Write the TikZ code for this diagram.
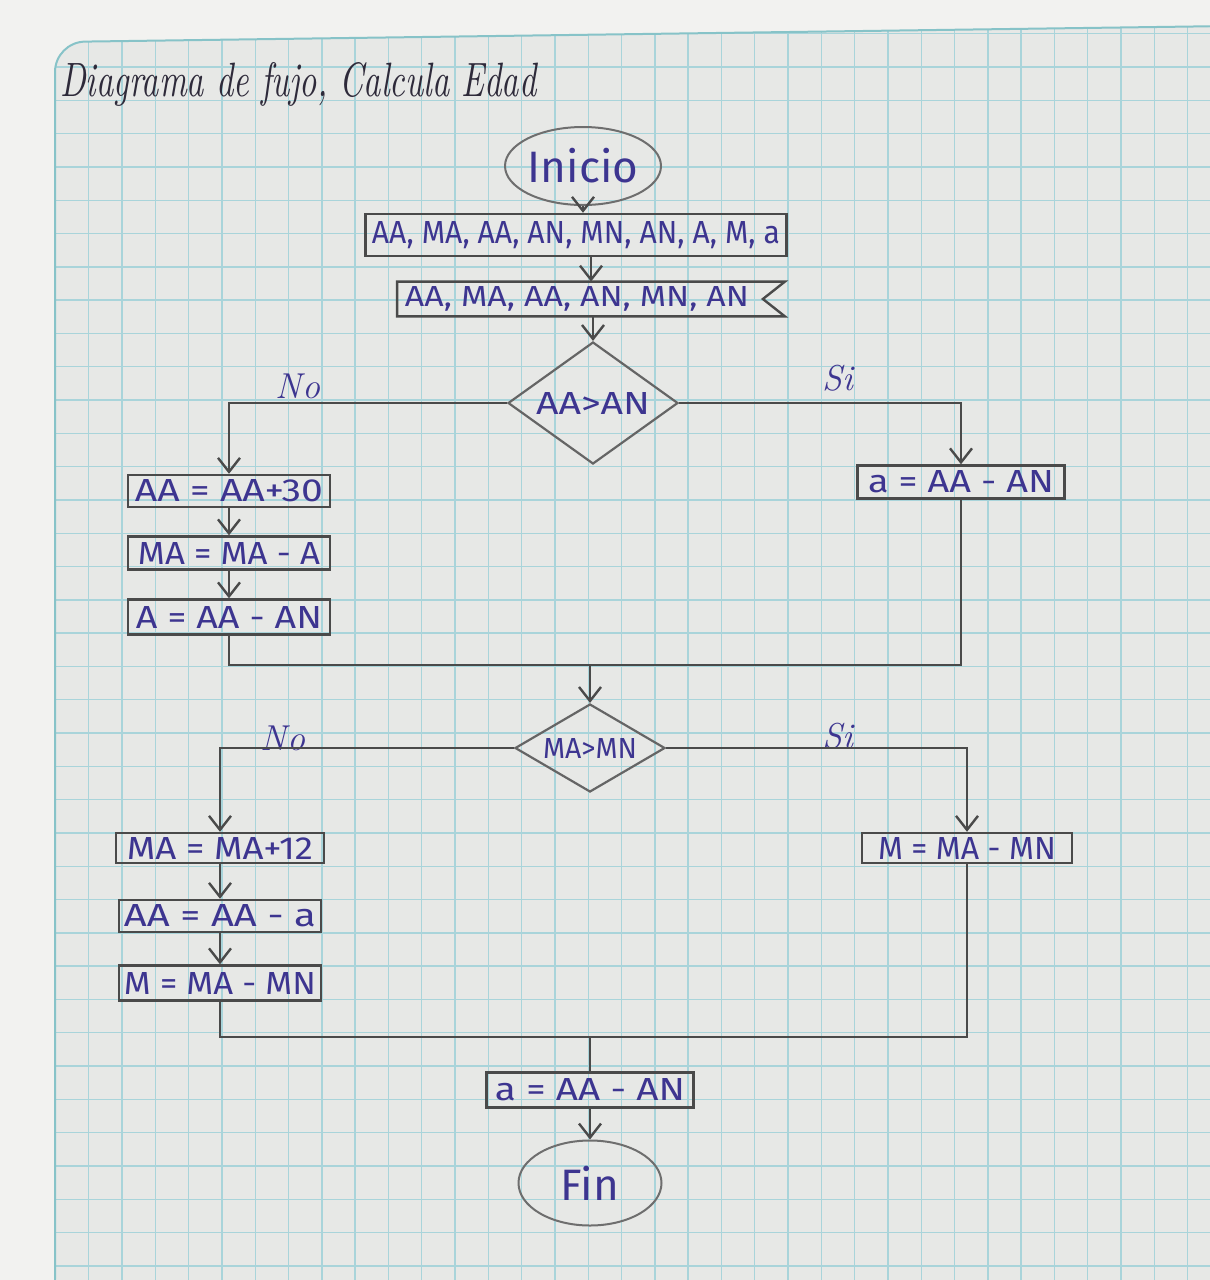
\documentclass[tikz,border=0pt]{standalone}
\usepackage{fontspec}
\usepackage{graphicx}
\usetikzlibrary{shapes.geometric,arrows.meta}
\newfontfamily\handfont{Fira Sans}
\definecolor{linec}{HTML}{4A4A4A}
\definecolor{txtc}{HTML}{3D3590}
\definecolor{titc}{HTML}{2E2A3A}
\definecolor{outc}{HTML}{F2F2F0}
\definecolor{paperc}{HTML}{E7E8E6}
\definecolor{gridc}{HTML}{A9D4DA}
\newcommand{\fitt}[3]{\resizebox{#1pt}{#2pt}{#3}}
\tikzset{
  box/.style={draw=linec, line width=1.2pt, rectangle, inner sep=0pt, text=txtc, font=\handfont},
  dec/.style={draw=linec!85, line width=1.1pt, diamond, inner sep=0pt, text=txtc, font=\handfont},
  term/.style={draw=linec!80, line width=1pt, ellipse, inner sep=0pt, text=txtc, font=\handfont\fontsize{22}{24}\selectfont},
  flow/.style={draw=linec, line width=1.2pt},
  arr/.style={flow, -{Straight Barb[length=7pt,width=11pt,line width=1.2pt]}},
  lbl/.style={text=txtc, font=\itshape\fontsize{18}{20}\selectfont},
}
\begin{document}
\begin{tikzpicture}[x=0.5pt,y=-0.5pt]
\useasboundingbox (0,0) rectangle (1210,1280);
% background and paper
\fill[outc] (0,0) rectangle (1210,1280);
\begin{scope}
\path[fill=paperc, rounded corners=15] (55,1300) -- (55,42) -- (1230,26) -- (1230,1300) -- cycle;
\clip[rounded corners=15] (55,1300) -- (55,42) -- (1230,26) -- (1230,1300) -- cycle;
\foreach \k in {-2,...,33} \draw[gridc, line width=0.7pt] ({122+33.3*\k},0) -- ({122+33.3*\k},1300);
\foreach \k in {-21,...,17} \draw[gridc, line width=0.7pt] (0,{733+33.3*\k}) -- (1230,{733+33.3*\k});
\end{scope}
\draw[gridc!80!teal, line width=1pt, rounded corners=15] (55,1300) -- (55,42) -- (1230,26);
% title
\node[anchor=west, text=titc, inner sep=0pt] (title) at (60,84) {\resizebox{238pt}{17pt}{\itshape Diagrama de fujo, Calcula Edad}};
% nodes
\node[term, minimum width=75pt, minimum height=39pt] (inicio) at (583,166) {Inicio};
\node[box, minimum width=210.5pt, minimum height=21pt] (in1) at (576,235) {\fitt{204}{11}{AA, MA, AA, AN, MN, AN, A, M, a}};
\node[inner sep=0pt, minimum width=193.5pt, minimum height=17pt, text=txtc, font=\handfont] (in2) at (591,299) {\fitt{172}{10}{AA, MA, AA, AN, MN, AN}\hspace*{14pt}};
\draw[flow] (in2.north west) -- (in2.north east) -- ([xshift=-11pt]in2.east) -- (in2.south east) -- (in2.south west) -- cycle;
\node[dec, aspect=1.4, minimum width=85pt, minimum height=61pt] (d1) at (593,403) {\fitt{57}{11}{AA>AN}};
\node[box, minimum width=101pt, minimum height=16pt] (L1) at (229,491) {\fitt{94}{11}{AA = AA+30}};
\node[box, minimum width=101pt, minimum height=16.5pt] (L2) at (229,553) {\fitt{91}{11}{MA = MA - A}};
\node[box, minimum width=101pt, minimum height=17.5pt] (L3) at (229,617) {\fitt{93}{11}{A = AA - AN}};
\node[box, minimum width=103.5pt, minimum height=16.5pt] (R1) at (961,482) {\fitt{93}{11}{a = AA - AN}};
\node[dec, aspect=1.7, minimum width=75pt, minimum height=44pt] (d2) at (590,748) {\fitt{47}{10}{MA>MN}};
\node[box, minimum width=104pt, minimum height=15pt] (L4) at (220,848) {\fitt{93}{11}{MA = MA+12}};
\node[box, minimum width=101pt, minimum height=16pt] (L5) at (220,916) {\fitt{96}{11}{AA = AA - a}};
\node[box, minimum width=101pt, minimum height=17.5pt] (L6) at (220,983) {\fitt{96}{11}{M = MA - MN}};
\node[box, minimum width=105pt, minimum height=15pt] (R2) at (967,848) {\fitt{89}{11}{M = MA - MN}};
\node[box, minimum width=103.5pt, minimum height=17.5pt] (out) at (590,1090) {\fitt{95}{11}{a = AA - AN}};
\node[term, minimum width=71.5pt, minimum height=42.5pt] (fin) at (590,1183) {Fin};
% labels
\node[lbl] (no1) at (298,386) {No};
\node[lbl] (si1) at (838,378) {Si};
\node[lbl] (no2) at (283,738) {No};
\node[lbl] (si2) at (838,736) {Si};
% connectors
\draw[arr] (inicio.south) -- (inicio.south |- in1.north);
\draw[arr] (in2.north |- in1.south) -- (in2.north);
\draw[arr] (d1.north |- in2.south) -- (d1.north);
\draw[arr] (d1.west) -| (L1.north);
\draw[arr] (d1.east) -| (R1.north);
\draw[arr] (L1.south) -- (L2.north);
\draw[arr] (L2.south) -- (L3.north);
\coordinate (m1) at (590,665);
\draw[flow] (L3.south) |- (m1);
\draw[flow] (R1.south) |- (m1);
\draw[arr] (m1) -- (d2.north);
\draw[arr] (d2.west) -| (L4.north);
\draw[arr] (d2.east) -| (R2.north);
\draw[arr] (L4.south) -- (L5.north);
\draw[arr] (L5.south) -- (L6.north);
\coordinate (m2) at (590,1037);
\draw[flow] (L6.south) |- (m2);
\draw[flow] (R2.south) |- (m2);
\draw[flow] (m2) -- (out.north);
\draw[arr] (out.south) -- (fin.north);
\end{tikzpicture}
\end{document}
